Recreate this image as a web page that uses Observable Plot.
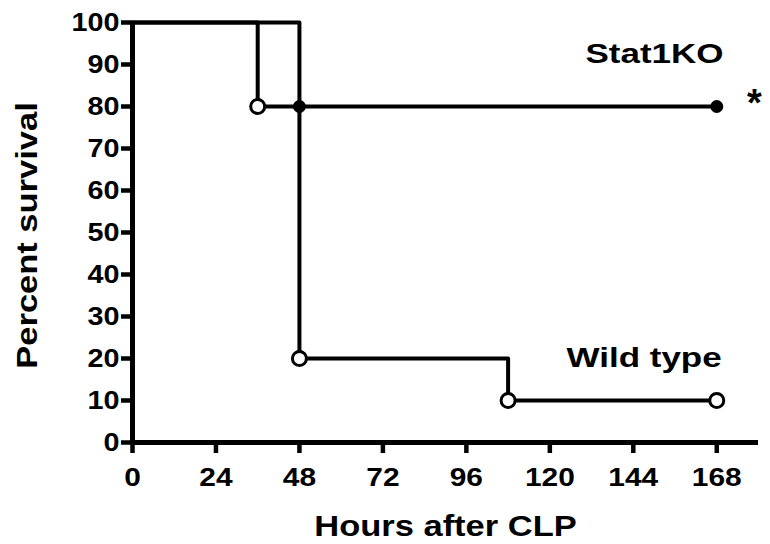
<!DOCTYPE html>
<html>
<head>
<meta charset="utf-8">
<script src="https://cdn.jsdelivr.net/npm/d3@7"></script>
<script src="https://cdn.jsdelivr.net/npm/@observablehq/plot@0.6"></script>
<style>
  html, body { margin: 0; padding: 0; background: #fff; }
</style>
</head>
<body>
<script>
// Data
const hourTicks = [0, 24, 48, 72, 96, 120, 144, 168];
const percentTicks = [0, 10, 20, 30, 40, 50, 60, 70, 80, 90, 100];
const wildTypeHours = [0, 36, 48, 108, 168];
const wildTypeSurvival = [100, 80, 20, 10, 10];
const stat1koHours = [0, 48, 168];
const stat1koSurvival = [100, 80, 80];
const seriesNames = ["Wild type", "Stat1KO"];

const wt = wildTypeHours.map((h, i) => ({hours: h, survival: wildTypeSurvival[i]}));
const ko = stat1koHours.map((h, i) => ({hours: h, survival: stat1koSurvival[i]}));

const font = "'Liberation Sans', Arial, Helvetica, sans-serif";

const chart = Plot.plot({
  width: 770,
  height: 544,
  marginLeft: 132,
  marginRight: 12,
  marginTop: 22,
  marginBottom: 102,
  style: {fontFamily: font, background: "#fff", color: "#000"},
  x: {domain: [0, 180], axis: null},
  y: {domain: [0, 100], axis: null},
  marks: [
    Plot.axisY({ticks: percentTicks, tickSize: 11, tickPadding: 2, fontSize: 25, fontWeight: "bold", strokeWidth: 4.5, label: null, tickFormat: d => String(d)}),
    Plot.axisX({ticks: hourTicks, tickSize: 11, tickPadding: 14, fontSize: 26, fontWeight: "bold", strokeWidth: 4.5, label: null, tickFormat: d => String(d)}),
    Plot.ruleX([0], {y1: 0, y2: 100, strokeWidth: 5, stroke: "#000"}),
    Plot.ruleY([0], {x1: 0, x2: 180, strokeWidth: 5, stroke: "#000"}),
    Plot.line(wt, {x: "hours", y: "survival", curve: "step-after", stroke: "#000", strokeWidth: 4}),
    Plot.line(ko, {x: "hours", y: "survival", curve: "step-after", stroke: "#000", strokeWidth: 4}),
    Plot.dot(wt.slice(1), {x: "hours", y: "survival", r: 7, fill: "#fff", stroke: "#000", strokeWidth: 3}),
    Plot.dot(ko.slice(1), {x: "hours", y: "survival", r: 6.5, fill: "#000", stroke: "none"}),
    Plot.text([seriesNames[1]], {x: 150.1, y: 92.4, text: d => d, fontSize: 28, fontWeight: "bold", textAnchor: "middle", lineAnchor: "middle", fill: "#000"}),
    Plot.text([seriesNames[0]], {x: 147.1, y: 20.2, text: d => d, fontSize: 28, fontWeight: "bold", textAnchor: "middle", lineAnchor: "middle", fill: "#000"}),
    Plot.text(["*"], {x: 178.8, y: 80.6, text: d => d, fontSize: 38, fontWeight: "bold", textAnchor: "middle", lineAnchor: "middle", fill: "#000"}),
    Plot.text(["Hours after CLP"], {frameAnchor: "bottom", text: d => d, dy: 93, lineAnchor: "bottom", fontSize: 30, fontWeight: "bold", fill: "#000"}),
    Plot.text(["Percent survival"], {frameAnchor: "left", text: d => d, rotate: -90, dx: -105, dy: 3, textAnchor: "middle", lineAnchor: "middle", fontSize: 30, fontWeight: "bold", fill: "#000"})
  ]
});
document.body.appendChild(chart);

// Horizontal stretch of the lettering, as in the reference image
const stretchBySize = {"25px": 1.15, "26px": 1.15, "30px": 1.15, "28px": 1.25};
chart.querySelectorAll("text").forEach(t => {
  const cs = getComputedStyle(t);
  const s = stretchBySize[cs.fontSize];
  if (!s) return;
  const b = t.getBBox();
  const a = cs.textAnchor;
  const cx = a === "end" ? b.x + b.width : a === "middle" ? b.x + b.width / 2 : b.x;
  const tr = t.getAttribute("transform") || "";
  t.setAttribute("transform", `${tr} translate(${cx},0) scale(${s},1) translate(${-cx},0)`);
});
</script>
</body>
</html>
